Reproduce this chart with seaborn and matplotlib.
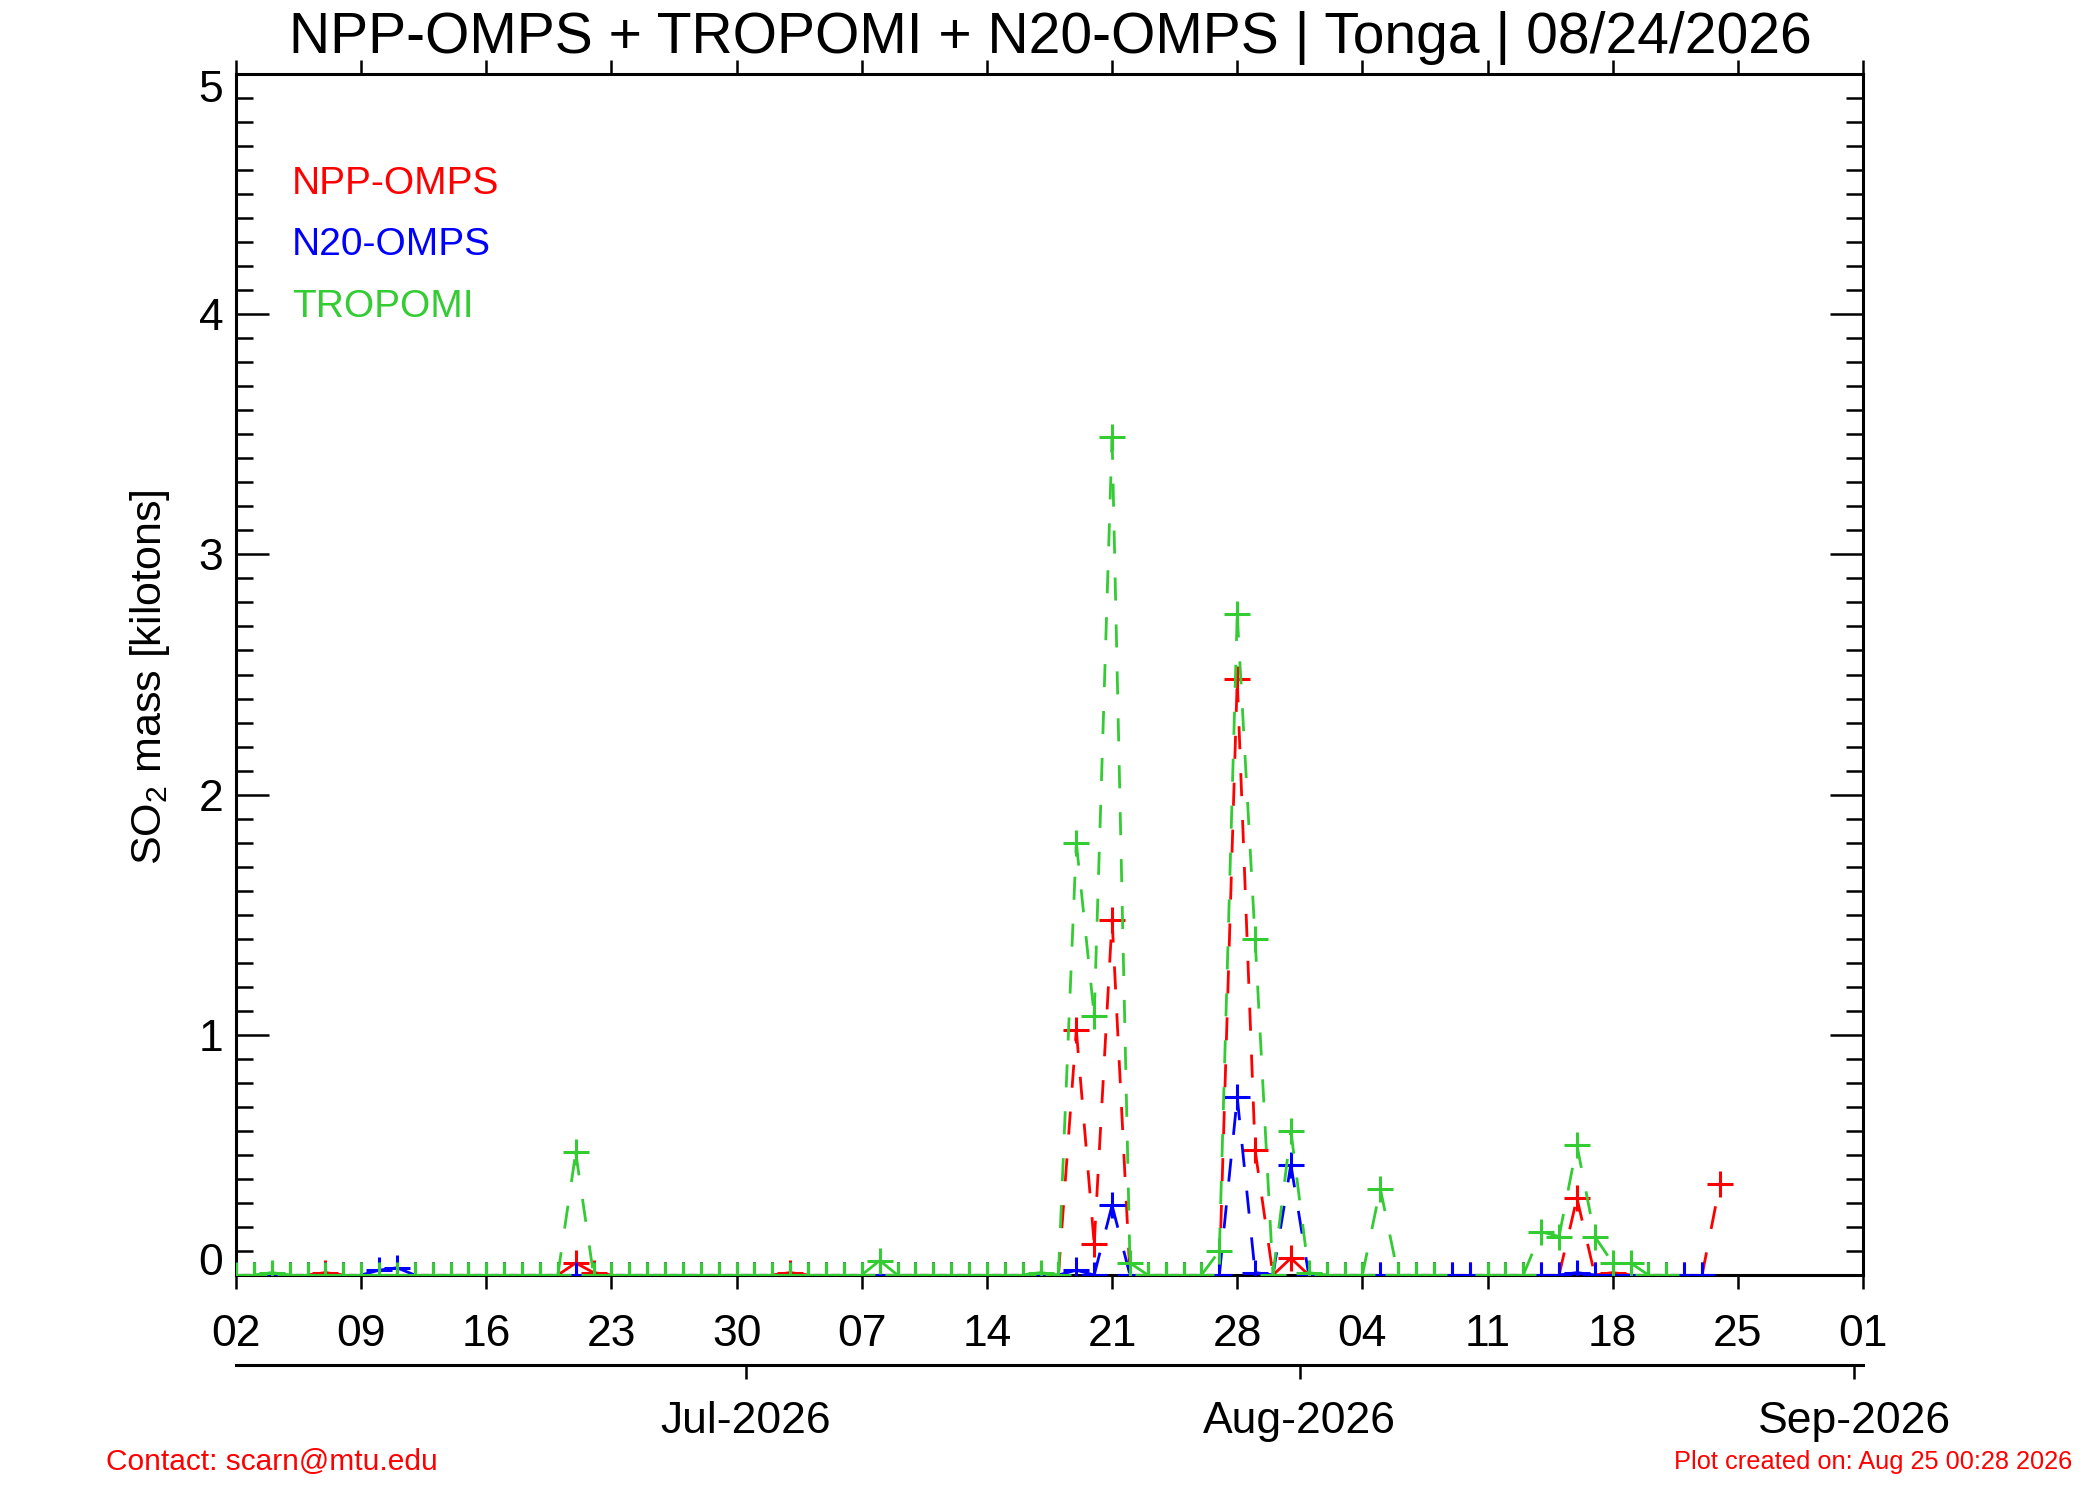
import numpy as np
import pandas as pd
import seaborn as sns
import matplotlib.pyplot as plt
import matplotlib.dates as mdates
from matplotlib.ticker import MultipleLocator, FixedLocator
from matplotlib.transforms import ScaledTranslation

nan = np.nan
start_date = '2026-06-02'   # first daily value, one row per week below (Jun 02 .. Aug 24)
x_start, x_end = '2026-06-02', '2026-09-01'
month_ticks = ['2026-07-01', '2026-08-01', '2026-09-01']
month_labels = ['Jul-2026', 'Aug-2026', 'Sep-2026']

# SO2 mass [kilotons]
npp_omps = [
    0, 0, 0, 0, 0, 0.01, 0,
    0, 0, 0, 0, 0, 0, 0,
    0, 0, 0, 0, 0, 0.05, 0.01,
    0, 0, 0, 0, 0, 0, 0,
    0, 0, 0, 0.01, 0, 0, 0,
    0, 0, 0, 0, 0, 0, 0,
    0, 0, 0, 0, 0, 1.02, 0.13,
    1.48, 0, 0, 0, 0, 0, 0,
    2.48, 0.52, 0, 0.07, 0, 0, 0,
    0, 0, 0, 0, 0, 0, 0,
    0, 0, 0, 0, 0, 0.32, 0,
    0.01, 0, 0, 0, 0, 0, 0.38,
]
n20_omps = [
    0, 0, 0, 0, 0, 0, 0,
    0, 0.02, 0.03, 0, 0, 0, 0,
    0, 0, 0, 0, 0, 0, 0,
    0, 0, 0, 0, 0, 0, 0,
    0, 0, 0, 0, 0, 0, 0,
    0, 0, 0, 0, 0, 0, 0,
    0, 0, 0, 0, 0, 0.02, 0,
    0.29, 0, 0, 0, 0, 0, 0,
    0.74, 0.01, 0, 0.46, 0, 0, 0,
    0, 0, 0, 0, 0, 0, 0,
    0, 0, 0, 0, 0, 0.01, 0,
    0, 0, 0, 0, 0, 0, nan,
]
tropomi = [
    0, 0, 0.01, 0, 0, 0, 0,
    0, 0, 0, 0, 0, 0, 0,
    0, 0, 0, 0, 0, 0.51, 0,
    0, 0, 0, 0, 0, 0, 0,
    0, 0, 0, 0, 0, 0, 0,
    0, 0.06, 0, 0, 0, 0, 0,
    0, 0, 0, 0.01, 0, 1.80, 1.08,
    3.49, 0.05, 0, 0, 0, 0, 0.10,
    2.75, 1.40, 0, 0.60, 0.01, 0, 0,
    0, 0.36, 0, 0, 0, nan, nan,
    0, 0, 0, 0.18, 0.16, 0.54, 0.16,
    0.05, 0.05, 0, 0, nan, nan, nan,
]

series = [('NPP-OMPS', npp_omps, '#ff0000'),
          ('N20-OMPS', n20_omps, '#0000ff'),
          ('TROPOMI', tropomi, '#33cc33')]

plt.rcParams['font.family'] = ['Liberation Sans', 'DejaVu Sans']


def points(values):
    dates = pd.date_range(start_date, periods=len(values), freq='D')
    df = pd.DataFrame({'date': dates, 'mass': values})
    return df.dropna()


def segments(values):
    # one unit per pair of days, so the dash pattern restarts at every point
    dates = pd.date_range(start_date, periods=len(values), freq='D')
    rows = []
    for i in range(len(values) - 1):
        if np.isnan(values[i]) or np.isnan(values[i + 1]):
            continue
        rows.append((dates[i], values[i], i))
        rows.append((dates[i + 1], values[i + 1], i))
    return pd.DataFrame(rows, columns=['date', 'mass', 'seg'])


fig = plt.figure(figsize=(21, 15), dpi=100)
left, right, bottom, top = 236 / 2100, 1863 / 2100, 1 - 1275 / 1500, 1 - 74 / 1500
ax = fig.add_axes([left, bottom, right - left, top - bottom])

for z, (name, vals, color) in enumerate(series):
    sns.lineplot(data=segments(vals), x='date', y='mass', units='seg', estimator=None,
                 sort=False, color=color, linewidth=2, linestyle=(0, (8.3, 8.6)),
                 ax=ax, legend=False, zorder=2 + z)
    sns.scatterplot(data=points(vals), x='date', y='mass', marker='+', s=19 ** 2,
                    color=color, edgecolor=color, linewidth=2.2, ax=ax,
                    legend=False, zorder=2 + z)

ax.set_xlim(pd.Timestamp(x_start), pd.Timestamp(x_end))
ax.set_ylim(0, 5)
ax.set_xlabel('')
ax.set_ylabel('')
for s in ax.spines.values():
    s.set_linewidth(2.2)

ax.xaxis.set_major_locator(FixedLocator(mdates.date2num(pd.date_range(x_start, x_end, freq='7D'))))
ax.xaxis.set_major_formatter(mdates.DateFormatter('%d'))
ax.tick_params(axis='x', which='major', direction='out', length=10, width=1.8,
               top=True, bottom=True, labelsize=32, pad=18)
ax.set_yticks(range(6))
ax.set_yticklabels([str(v) for v in range(6)])
ax.yaxis.set_minor_locator(MultipleLocator(0.1))
ax.tick_params(axis='y', which='major', direction='in', length=24, width=1.8,
               left=True, right=True, labelsize=32, pad=9)
ax.tick_params(axis='y', which='minor', direction='in', length=12, width=1.8,
               left=True, right=True)
for lab in ax.get_yticklabels():
    if lab.get_text() == '0':
        lab.set_transform(lab.get_transform() + ScaledTranslation(0, 16 / 100, fig.dpi_scale_trans))
    elif lab.get_text() == '5':
        lab.set_transform(lab.get_transform() + ScaledTranslation(0, -12 / 100, fig.dpi_scale_trans))

# month axis under the day labels
ax2 = fig.add_axes([left, 1 - 1365 / 1500, right - left, 0.0001])
ax2.set_xlim(pd.Timestamp(x_start), pd.Timestamp(x_end))
ax2.set_xticks(mdates.date2num(pd.to_datetime(month_ticks) - pd.Timedelta(hours=12)))
ax2.set_xticklabels(month_labels)
ax2.set_yticks([])
for k in ['left', 'right', 'top']:
    ax2.spines[k].set_visible(False)
ax2.spines['bottom'].set_linewidth(2.2)
ax2.patch.set_visible(False)
ax2.tick_params(axis='x', direction='out', length=10, width=1.8, labelsize=32, pad=16)

fig.text(0.5, 1 - 53 / 1500, 'NPP-OMPS + TROPOMI + N20-OMPS | Tonga | 08/24/2026',
         ha='center', va='baseline', fontsize=41)
fig.text(150 / 2100, 1 - 677 / 1500, 'SO$_\\mathregular{2}$ mass [kilotons]',
         rotation=90, ha='center', va='center', fontsize=31)
for (name, vals, color), yb in zip([series[0], series[1], series[2]], [194, 255, 316.7]):
    fig.text(292 / 2100, 1 - yb / 1500, name, color=color, fontsize=28, va='baseline')
fig.text(106 / 2100, 1 - 1470 / 1500, 'Contact: scarn@mtu.edu', color='#ff0000',
         fontsize=21.5, va='baseline')
fig.text(2072 / 2100, 1 - 1469 / 1500, 'Plot created on: Aug 25 00:28 2026', color='#ff0000',
         fontsize=18.3, ha='right', va='baseline')

fig.savefig('out.png', dpi=100)
